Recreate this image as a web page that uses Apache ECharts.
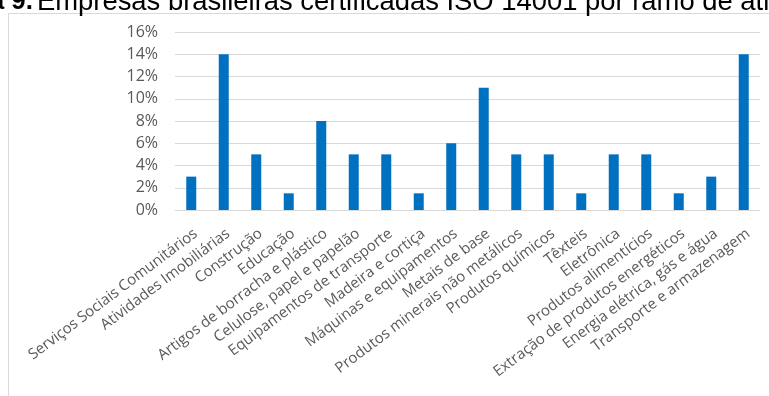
<!DOCTYPE html>
<html>
<head>
<meta charset="utf-8">
<script src="https://cdn.jsdelivr.net/npm/echarts@6/dist/echarts.min.js"></script>
<style>
  html, body { margin: 0; padding: 0; background: #fff; }
  #chart { width: 769px; height: 396px; }
</style>
</head>
<body>
<div id="chart"></div>
<script>
// ramos de atividade
var categorias = [
    'Serviços Sociais Comunitários',
    'Atividades Imobiliárias',
    'Construção',
    'Educação',
    'Artigos de borracha e plástico',
    'Celulose, papel e papelão',
    'Equipamentos de transporte',
    'Madeira e cortiça',
    'Máquinas e equipamentos',
    'Metais de base',
    'Produtos minerais não metálicos',
    'Produtos químicos',
    'Têxteis',
    'Eletrônica',
    'Produtos alimentícios',
    'Extração de produtos energéticos',
    'Energia elétrica, gás e água',
    'Transporte e armazenagem'
];
// percentual de empresas certificadas
var percentuais = [3, 14, 5, 1.5, 8, 5, 5, 1.5, 6, 11, 5, 5, 1.5, 5, 5, 1.5, 3, 14];
var ticksY = [0, 2, 4, 6, 8, 10, 12, 14, 16];

var tituloNegrito = 'Figura 9.';
var titulo = 'Empresas brasileiras certificadas ISO 14001 por ramo de atividade';

var myChart = echarts.init(document.getElementById('chart'));

var fonteTitulo = '"Liberation Sans", Arial';

var option = {
    animation: false,
    textStyle: { fontFamily: '"Open Sans", sans-serif' },
    graphic: [
        {
            type: 'rect',
            shape: { x: 8.5, y: 13.5, width: 800, height: 400 },
            style: { fill: 'none', stroke: '#d9d9d9', lineWidth: 1 },
            silent: true
        },
        {
            type: 'text',
            x: 33,
            y: -11,
            style: {
                text: tituloNegrito,
                align: 'right',
                verticalAlign: 'top',
                font: 'bold 26px ' + fonteTitulo,
                fill: '#000'
            }
        },
        {
            type: 'text',
            x: 37,
            y: -11,
            style: {
                text: titulo,
                align: 'left',
                verticalAlign: 'top',
                font: '27.4px ' + fonteTitulo,
                fill: '#000'
            }
        }
    ],
    grid: { left: 175, right: 9, top: 32, bottom: 186, outerBoundsMode: 'none' },
    xAxis: {
        type: 'category',
        data: categorias,
        axisLine: { lineStyle: { color: '#d9d9d9' } },
        axisTick: { show: false },
        axisLabel: {
            interval: 0,
            rotate: 37,
            margin: 16,
            verticalAlign: 'top',
            color: '#595959',
            fontSize: 15
        }
    },
    yAxis: {
        type: 'value',
        min: ticksY[0],
        max: ticksY[ticksY.length - 1],
        interval: 2,
        axisLine: { show: false },
        axisTick: { show: false },
        splitLine: { lineStyle: { color: '#d9d9d9' } },
        axisLabel: {
            formatter: '{value}%',
            color: '#595959',
            fontSize: 16,
            margin: 17
        }
    },
    series: [{
        type: 'bar',
        data: percentuais,
        barWidth: 10,
        itemStyle: { color: '#0070c0' }
    }]
};

myChart.setOption(option);
</script>
</body>
</html>
